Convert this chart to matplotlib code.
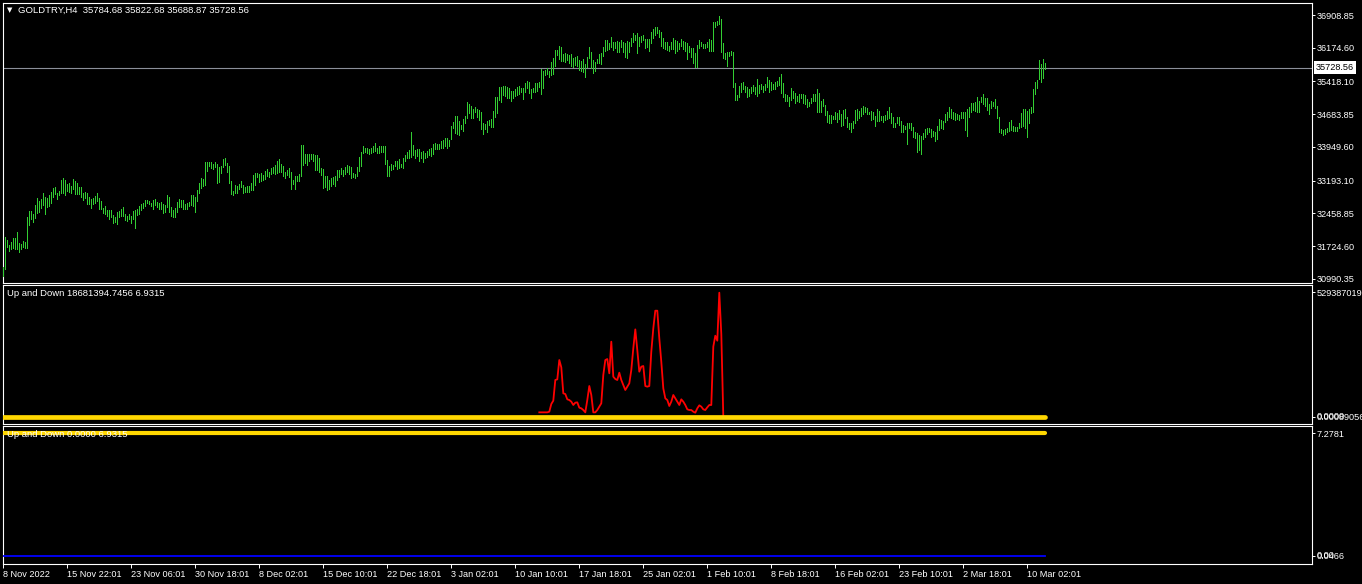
import numpy as np
import matplotlib
matplotlib.use("Agg")
import matplotlib.pyplot as plt
import matplotlib.transforms as mtransforms

plt.rcParams['font.family'] = ['Liberation Sans', 'DejaVu Sans']
plt.rcParams['font.size'] = 6.6

# ---- data ----
symbol = "GOLDTRY,H4"
last_ohlc = [35784.68, 35822.68, 35688.87, 35728.56]

# H4 bar highs / lows, oldest first
bar_high = [
    31266, 31924, 31864, 31752, 31812, 31901, 31901, 32043, 31789, 31767,
    31842, 31812, 32372, 32514, 32514, 32447, 32649, 32798, 32738, 32783,
    32910, 32835, 32806, 32873, 32948, 33022, 33060, 32925, 32962, 33209,
    33246, 33209, 33119, 33134, 33082, 33231, 33194, 33134, 33045, 33045,
    32910, 32948, 32910, 32835, 32776, 32798, 32858, 32910, 32798, 32738,
    32589, 32626, 32537, 32537, 32537, 32417, 32387, 32499, 32514, 32551,
    32596, 32447, 32402, 32447, 32410, 32514, 32537, 32559, 32626, 32671,
    32686, 32761, 32761, 32746, 32701, 32761, 32783, 32723, 32701, 32723,
    32671, 32649, 32873, 32835, 32596, 32537, 32574, 32723, 32783, 32761,
    32761, 32671, 32701, 32723, 32873, 32873, 32835, 32985, 33134, 33246,
    33224, 33605, 33605, 33605, 33605, 33568, 33605, 33568, 33508, 33523,
    33680, 33695, 33583, 33523, 33194, 32970, 33097, 33082, 33112, 33194,
    33097, 33045, 33075, 33075, 33134, 33321, 33374, 33374, 33344, 33359,
    33322, 33419, 33456, 33396, 33486, 33509, 33546, 33636, 33680, 33568,
    33524, 33382, 33434, 33471, 33396, 33210, 33307, 33307, 33344, 33994,
    33994, 33793, 33793, 33793, 33793, 33793, 33770, 33770, 33695, 33471,
    33456, 33307, 33299, 33210, 33262, 33284, 33307, 33434, 33434, 33471,
    33434, 33494, 33546, 33524, 33509, 33374, 33344, 33494, 33718, 33830,
    33972, 33935, 33920, 33905, 33920, 33972, 34032, 33935, 33972, 33972,
    33972, 33972, 33658, 33524, 33568, 33546, 33636, 33636, 33680, 33568,
    33710, 33770, 33830, 33882, 34278, 33994, 33882, 33905, 33897, 33845,
    33860, 33822, 33867, 33897, 33920, 34017, 34032, 34009, 34017, 34084,
    34106, 34144, 34144, 34106, 34420, 34517, 34644, 34644, 34532, 34443,
    34577, 34644, 34951, 34906, 34869, 34801, 34839, 34801, 34779, 34727,
    34480, 34465, 34532, 34555, 34577, 34756, 35063, 35063, 35287, 35287,
    35317, 35317, 35302, 35265, 35205, 35212, 35250, 35287, 35317, 35265,
    35265, 35377, 35437, 35414, 35242, 35265, 35392, 35377, 35414, 35698,
    35661, 35676, 35713, 35653, 35863, 35937, 36124, 36124, 36214, 36199,
    36035, 36050, 36035, 36012, 36035, 35937, 35975, 35997, 35900, 35885,
    35915, 35810, 35975, 36184, 36087, 35900, 35863, 35923, 36035, 36065,
    36184, 36348, 36348, 36289, 36408, 36311, 36311, 36334, 36296, 36348,
    36311, 36274, 36326, 36311, 36401, 36498, 36461, 36498, 36423, 36446,
    36461, 36363, 36363, 36371, 36520, 36595, 36632, 36647, 36573, 36535,
    36401, 36296, 36296, 36221, 36311, 36386, 36348, 36326, 36274, 36371,
    36326, 36296, 36274, 36221, 36177, 36162, 36050, 36236, 36348, 36311,
    36251, 36259, 36296, 36371, 36348, 36759, 36759, 36782, 36894, 36819,
    36274, 36050, 36087, 36087, 36109, 36087, 35392, 35115, 35317, 35392,
    35414, 35317, 35287, 35250, 35302, 35340, 35287, 35467, 35340, 35362,
    35317, 35362, 35526, 35451, 35414, 35362, 35414, 35429, 35526, 35579,
    35392, 35130, 35105, 35078, 35280, 35205, 35153, 35100, 35130, 35138,
    35138, 35115, 35026, 34966, 35040, 35138, 35130, 35250, 35168, 34981,
    35026, 34891, 34757, 34667, 34667, 34644, 34742, 34704, 34779, 34682,
    34779, 34794, 34630, 34495, 34480, 34532, 34779, 34801, 34757, 34816,
    34869, 34854, 34816, 34742, 34757, 34727, 34652, 34801, 34757, 34652,
    34652, 34667, 34757, 34854, 34704, 34630, 34495, 34614, 34614, 34540,
    34443, 34420, 34480, 34480, 34480, 34405, 34293, 34256, 34219, 34196,
    34256, 34353, 34383, 34368, 34353, 34308, 34293, 34428, 34577, 34555,
    34532, 34682, 34727, 34854, 34801, 34742, 34704, 34682, 34667, 34742,
    34727, 34742, 34794, 34854, 34928, 34943, 34966, 35063, 34988, 35063,
    35138, 35055, 35040, 34906, 34981, 34966, 35026, 34876, 34630, 34353,
    34331, 34353, 34383, 34517, 34555, 34428, 34405, 34405, 34495, 34704,
    34801, 34801, 34757, 34794, 34854, 35250, 35414, 35451, 35900, 35803,
    35922, 35823,
]
bar_low = [
    31064, 31222, 31699, 31625, 31655, 31677, 31670, 31662, 31603, 31662,
    31714, 31692, 31692, 32200, 32335, 32275, 32350, 32477, 32499, 32589,
    32649, 32454, 32596, 32626, 32686, 32835, 32888, 32791, 32873, 32910,
    32910, 32873, 32962, 32948, 32910, 33000, 32895, 32895, 32895, 32835,
    32761, 32798, 32664, 32671, 32589, 32671, 32701, 32738, 32551, 32559,
    32477, 32439, 32402, 32335, 32372, 32253, 32275, 32223, 32372, 32402,
    32402, 32312, 32297, 32327, 32253, 32327, 32141, 32425, 32439, 32537,
    32574, 32626, 32686, 32671, 32634, 32559, 32649, 32596, 32551, 32559,
    32462, 32499, 32596, 32499, 32410, 32387, 32372, 32499, 32596, 32611,
    32551, 32551, 32559, 32626, 32649, 32634, 32499, 32746, 32910, 33022,
    33075, 33097, 33418, 33523, 33471, 33456, 33508, 33134, 33172, 33374,
    33508, 33545, 33396, 33134, 32895, 32873, 32910, 32925, 33000, 33045,
    32910, 32933, 32948, 32948, 32985, 32985, 33097, 33269, 33172, 33194,
    33210, 33232, 33307, 33284, 33337, 33359, 33344, 33359, 33396, 33396,
    33307, 33262, 33322, 33284, 33008, 33113, 33008, 33187, 33187, 33307,
    33546, 33583, 33546, 33636, 33680, 33636, 33434, 33434, 33396, 33322,
    33038, 33045, 32985, 33000, 33075, 33113, 33075, 33210, 33284, 33344,
    33307, 33344, 33396, 33337, 33262, 33284, 33247, 33307, 33419, 33531,
    33808, 33830, 33808, 33793, 33822, 33845, 33867, 33808, 33822, 33845,
    33830, 33568, 33307, 33307, 33434, 33449, 33524, 33456, 33471, 33501,
    33486, 33636, 33710, 33710, 33733, 33770, 33695, 33748, 33636, 33695,
    33621, 33695, 33733, 33770, 33755, 33785, 33897, 33905, 33905, 33920,
    33935, 33979, 33935, 33972, 34121, 34368, 34271, 34233, 34218, 34345,
    34308, 34495, 34592, 34704, 34607, 34607, 34727, 34629, 34555, 34353,
    34241, 34353, 34293, 34443, 34405, 34405, 34629, 34704, 35003, 34966,
    35115, 35100, 35055, 35040, 34981, 35040, 35100, 35115, 35130, 35175,
    35026, 35190, 35280, 35153, 35056, 35175, 35190, 35213, 35287, 35138,
    35280, 35564, 35579, 35526, 35564, 35579, 35766, 36012, 35915, 35878,
    35885, 35863, 35900, 35840, 35766, 35736, 35788, 35766, 35676, 35653,
    35624, 35526, 35751, 35937, 35713, 35601, 35661, 35825, 35825, 35810,
    35997, 36109, 36124, 36147, 36184, 36124, 36162, 36087, 36087, 36184,
    36087, 35975, 35937, 36087, 36221, 36311, 36348, 36065, 36214, 36311,
    36348, 36177, 36184, 36109, 36274, 36386, 36461, 36498, 36408, 36214,
    36162, 36147, 36124, 36102, 36147, 36147, 36050, 36109, 36139, 36221,
    36147, 36109, 35915, 36087, 35975, 35825, 35751, 35751, 36162, 36221,
    36162, 36177, 36199, 36109, 36109, 36109, 36647, 36685, 36707, 36087,
    35937, 35915, 35766, 35990, 36012, 35302, 35003, 35003, 35063, 35190,
    35242, 35190, 35063, 35093, 35153, 35205, 35138, 35100, 35153, 35242,
    35190, 35227, 35287, 35190, 35227, 35242, 35250, 35317, 35340, 35153,
    35063, 34970, 34975, 34876, 35003, 35040, 34943, 34988, 34966, 35040,
    34928, 34906, 34854, 34876, 34928, 34981, 34988, 34727, 34727, 34742,
    34876, 34667, 34517, 34495, 34480, 34570, 34570, 34517, 34577, 34428,
    34443, 34592, 34405, 34353, 34293, 34368, 34480, 34555, 34607, 34644,
    34682, 34742, 34682, 34689, 34555, 34577, 34428, 34532, 34540, 34555,
    34517, 34555, 34577, 34592, 34495, 34390, 34405, 34480, 34443, 34293,
    34293, 34353, 34009, 34368, 34331, 34166, 34144, 33845, 33882, 33785,
    34121, 34181, 34233, 34278, 34166, 34204, 34084, 34121, 34331, 34383,
    34353, 34517, 34555, 34630, 34607, 34577, 34555, 34577, 34555, 34592,
    34607, 34331, 34204, 34630, 34742, 34779, 34757, 34727, 34727, 34966,
    34906, 34876, 34779, 34682, 34831, 34876, 34831, 34592, 34293, 34256,
    34219, 34233, 34278, 34308, 34331, 34308, 34308, 34308, 34368, 34405,
    34428, 34383, 34181, 34480, 34704, 34742, 35138, 35265, 35474, 35414,
    35504, 35689,
]

price_ticks = [36908.85, 36174.60, 35418.10, 34683.85, 33949.60,
               33193.10, 32458.85, 31724.60, 30990.35]

time_labels = ["8 Nov 2022", "15 Nov 22:01", "23 Nov 06:01", "30 Nov 18:01",
               "8 Dec 02:01", "15 Dec 10:01", "22 Dec 18:01", "3 Jan 02:01",
               "10 Jan 10:01", "17 Jan 18:01", "25 Jan 02:01", "1 Feb 10:01",
               "8 Feb 18:01", "16 Feb 02:01", "23 Feb 10:01", "2 Mar 18:01",
               "10 Mar 02:01"]
bars_per_label = 32

# "Up and Down" indicator, red buffer in millions, starts at bar 268
red_first_bar = 268
red_millions = [
    177, 177, 177, 177, 177, 205, 531, 673, 1552, 1580,
    2402, 2090, 985, 956, 730, 701, 631, 489, 588, 602,
    376, 347, 276, 177, 701, 1297, 914, 177, 177, 276,
    418, 560, 1764, 2402, 2444, 1835, 3181, 1693, 1594, 1552,
    1863, 1552, 1339, 1127, 1268, 1410, 1977, 2898, 3705, 2827,
    1906, 2118, 2147, 1297, 1268, 1297, 2756, 3748, 4499, 4499,
    3323, 2331, 1197, 772, 701, 446, 631, 914, 772, 631,
    489, 730, 631, 489, 305, 276, 276, 205, 163, 347,
    475, 418, 305, 276, 390, 489, 489, 2969, 3436, 3224,
    5264, 3507, 0,
]
yellow_level = 6.9315
blue_level = 0.0
sub1_max_label = "5293870195"
sub1_min_label = "0.00089056"
sub2_max_label = "7.2781"
sub2_min_label = "0.0466"

# ---- figure ----
W, H = 1362, 584
fig = plt.figure(figsize=(W / 100, H / 100), dpi=100, facecolor="black")


def px_axes(x0, y0, x1, y1):
    return fig.add_axes([x0 / W, 1 - y1 / H, (x1 - x0) / W, (y1 - y0) / H])


ax = px_axes(2.5, 2.5, 1311.5, 282.5)
ax1 = px_axes(2.5, 284.5, 1311.5, 423.5)
ax2 = px_axes(2.5, 425.5, 1311.5, 563.5)

n = len(bar_high)
idx = np.arange(n)

for a in (ax, ax1, ax2):
    a.set_facecolor("black")
    for s in a.spines.values():
        s.set_color("white")
        s.set_linewidth(0.8)
    a.set_xlim(-0.4, 654.1)
    a.yaxis.tick_right()
    a.tick_params(axis="y", colors="white", labelcolor="white", length=2.2,
                  width=0.7, pad=1.5, labelsize=6.6)
    a.tick_params(axis="x", bottom=False, labelbottom=False)

# price bars, one pixel wide
bars = ax.vlines(idx, bar_low, bar_high, colors="#32CD32", linewidth=0.72,
                 antialiased=False, zorder=3)
bars.set_snap(True)
last_close = last_ohlc[3]
ax.axhline(last_close, color="#8b8f99", lw=0.8, zorder=2)
ax.set_ylim(30911.7, 37189.1)
ax.set_yticks(price_ticks)
ax.set_yticklabels(["%.2f" % p for p in price_ticks])
trans = mtransforms.blended_transform_factory(ax.transAxes, ax.transData)
ax.text(1.0 + 4.5 / 1309, last_close, "%.2f" % last_close, transform=trans,
        ha="left", va="center", color="black", fontsize=6.6, clip_on=False,
        bbox=dict(boxstyle="square,pad=0.25", facecolor="white", edgecolor="none"))

fig.text(7 / W, 1 - 10.5 / H, "\u25BC", color="white", fontsize=5,
         va="center", ha="left", family="DejaVu Sans")
fig.text(18 / W, 1 - 10.5 / H,
         symbol + "  " + " ".join("%.2f" % v for v in last_ohlc),
         color="white", va="center", ha="left", fontsize=6.8)

# indicator window 1
red_x = np.arange(red_first_bar, red_first_bar + len(red_millions))
ax1.plot(red_x, np.array(red_millions) * 1e6, color="red", lw=1.3, zorder=3)
ax1.plot(idx, np.full(n, yellow_level), color="#FFD700", lw=3.4,
         solid_capstyle="round", zorder=4)
ax1.set_ylim(-2.976e8, 5.613e9)
ax1.set_yticks([5293870195, 0])
ax1.set_yticklabels([sub1_max_label, sub1_min_label])
trans1 = mtransforms.blended_transform_factory(ax1.transAxes, ax1.transData)
ax1.text(1.0 + 5.5 / 1309, 0, "0.0000", transform=trans1, ha="left",
         va="center", color="white", fontsize=6.6, clip_on=False)
fig.text(7 / W, 1 - 293.5 / H,
         "Up and Down 18681394.7456 %.4f" % yellow_level,
         color="white", va="center", ha="left", fontsize=6.8)

# indicator window 2
ax2.plot(idx, np.full(n, blue_level), color="#0000FF", lw=1.3, zorder=3)
ax2.plot(idx, np.full(n, yellow_level), color="#FFD700", lw=3.0,
         solid_capstyle="round", zorder=4)
ax2.set_ylim(-0.4237, 7.372)
ax2.set_yticks([yellow_level, blue_level])
ax2.set_yticklabels([sub2_max_label, sub2_min_label])
trans2 = mtransforms.blended_transform_factory(ax2.transAxes, ax2.transData)
ax2.text(1.0 + 5.5 / 1309, blue_level, "0.00", transform=trans2, ha="left",
         va="center", color="white", fontsize=6.6, clip_on=False)
fig.text(7 / W, 1 - 434.5 / H, "Up and Down 0.0000 %.4f" % yellow_level,
         color="white", va="center", ha="left", fontsize=6.8, zorder=10)

ticks = np.arange(len(time_labels)) * bars_per_label
ax2.set_xticks(ticks)
ax2.set_xticklabels(time_labels)
ax2.tick_params(axis="x", bottom=True, labelbottom=True, colors="white",
                labelcolor="white", length=3, width=0.7, pad=1.5,
                labelsize=6.6)
for lbl in ax2.get_xticklabels():
    lbl.set_ha("left")

fig.savefig("out.png", dpi=100, facecolor="black")
